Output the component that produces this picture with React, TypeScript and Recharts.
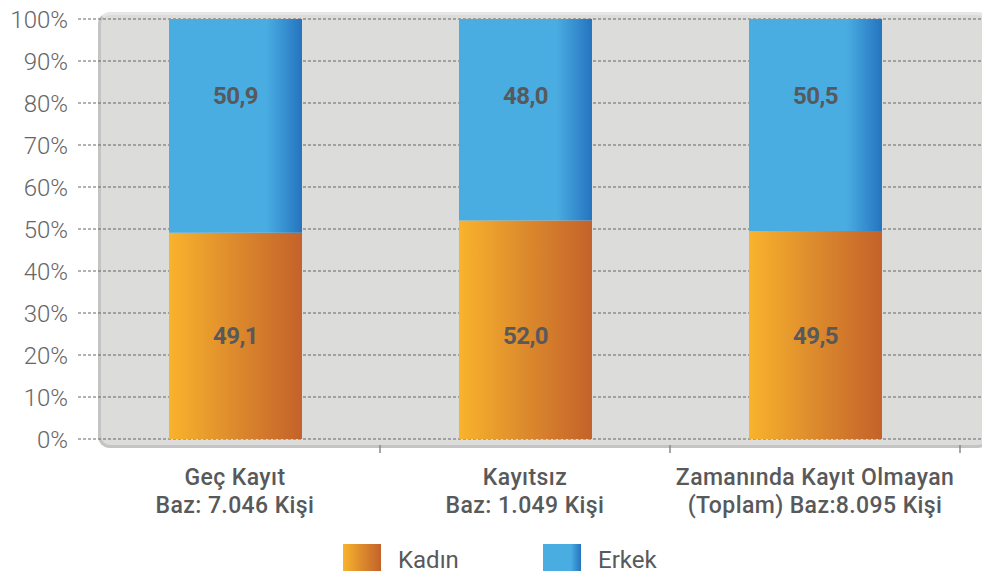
import { BarChart, Bar, XAxis, YAxis, CartesianGrid, LabelList } from 'recharts'

const categories = [
  ['Geç Kayıt', 'Baz: 7.046 Kişi'],
  ['Kayıtsız', 'Baz: 1.049 Kişi'],
  ['Zamanında Kayıt Olmayan', '(Toplam) Baz:8.095 Kişi']
]
const kadin = [49.1, 52.0, 49.5]
const erkek = [50.9, 48.0, 50.5]
const yTicks = [0, 10, 20, 30, 40, 50, 60, 70, 80, 90, 100]

const data = categories.map((c, i) => ({ name: c.join('\n'), kadin: kadin[i], erkek: erkek[i] }))

const font = 'Roboto, "DejaVu Sans", sans-serif'
const fmt = (v: any) => Number(v).toFixed(1).replace('.', ',')

const XTick = (props: any) => {
  const { x, y, payload } = props
  const lines = String(payload.value).split('\n')
  return (
    <g>
      <line x1={x + payload.offset} x2={x + payload.offset} y1={y + 6} y2={y + 14} stroke='#888' strokeWidth={1.5} />
      {lines.map((l: string, i: number) => (
        <text key={i} x={x} y={y + 46 + i * 28} textAnchor='middle' fill='#58595b' fontSize={23} fontWeight={500} letterSpacing={0.4} fontFamily={font}>
          {l}
        </text>
      ))}
    </g>
  )
}

export default function App () {
  return (
    <div style={{ position: 'relative', width: 990, height: 579, margin: -8, fontFamily: font }}>
      {/* gray plot panel */}
      <div style={{
        position: 'absolute', left: 98, top: 12, width: 886, height: 430,
        background: '#dcdcdb', borderRadius: 12,
        borderLeft: '3px solid #c4c4c4', borderBottom: '3px solid #c4c4c4',
        borderTop: '3px solid #e6e6e6', borderRight: '3px solid #e6e6e6'
      }} />
      <div style={{ position: 'absolute', left: 0, top: 0 }}>
        <BarChart width={990} height={579} data={data} margin={{ top: 19, right: 0, bottom: 50, left: 0 }} barSize={133}>
          <defs>
            <linearGradient id='gradKadin' x1='0' y1='0' x2='1' y2='0'>
              <stop offset='0%' stopColor='#f9b32c' />
              <stop offset='50%' stopColor='#dc8a2d' />
              <stop offset='100%' stopColor='#c4622a' />
            </linearGradient>
            <linearGradient id='gradErkek' x1='0' y1='0' x2='1' y2='0'>
              <stop offset='0%' stopColor='#4aade2' />
              <stop offset='73%' stopColor='#4aade2' />
              <stop offset='100%' stopColor='#2574bf' />
            </linearGradient>
          </defs>
          <CartesianGrid vertical={false} stroke='#666' strokeDasharray='3 2' />
          <XAxis dataKey='name' axisLine={false} tickLine={false} tickSize={0} tickMargin={0} height={90}
            padding={{ left: 12, right: 30 }} tick={<XTick />} interval={0} />
          <YAxis domain={[0, 100]} ticks={yTicks} tickFormatter={(v) => `${v}%`} width={78}
            axisLine={false} tickLine={false} tickSize={0} tickMargin={10}
            tick={{ fill: '#666', fontSize: 24, fontWeight: 300, fontFamily: font }} />
          <Bar dataKey='kadin' stackId='a' fill='url(#gradKadin)' isAnimationActive={false}>
            <LabelList dataKey='kadin' position='insideBottom' offset={95} formatter={fmt} fill='#58595b'
              fontSize={24} fontWeight={700} letterSpacing={-0.6} fontFamily={font} />
          </Bar>
          <Bar dataKey='erkek' stackId='a' fill='url(#gradErkek)' isAnimationActive={false}>
            <LabelList dataKey='erkek' position='insideTop' offset={68} formatter={fmt} fill='#58595b'
              fontSize={24} fontWeight={700} letterSpacing={-0.6} fontFamily={font} />
          </Bar>
        </BarChart>
      </div>
      {/* legend */}
      <div style={{ position: 'absolute', top: 544, left: 343, display: 'flex', alignItems: 'center', color: '#58595b', fontSize: 24 }}>
        <span style={{ width: 38, height: 32, background: 'linear-gradient(to right, #f9b32c, #dc8a2d, #c4622a)' }} />
        <span style={{ marginLeft: 17, width: 145 }}>Kadın</span>
        <span style={{ width: 38, height: 32, background: 'linear-gradient(to right, #4aade2 0%, #4aade2 73%, #2574bf 100%)' }} />
        <span style={{ marginLeft: 17 }}>Erkek</span>
      </div>
    </div>
  )
}
